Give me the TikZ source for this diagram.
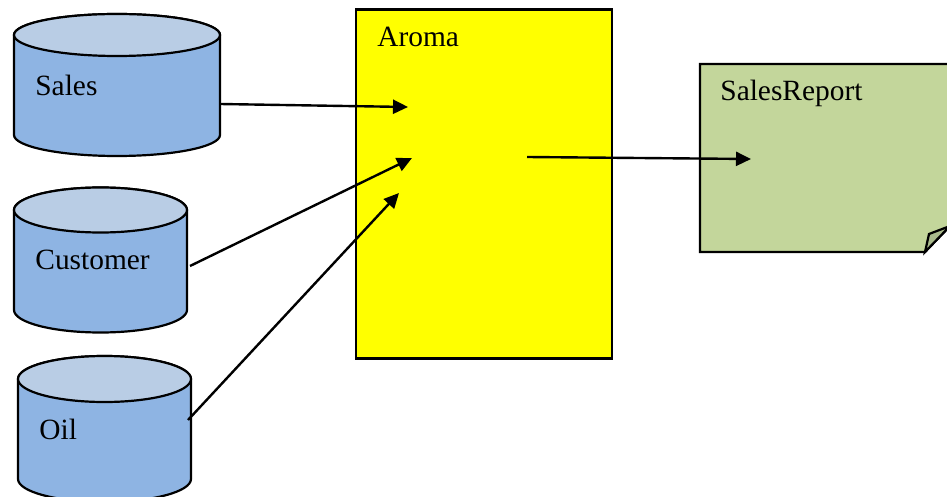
\documentclass[tikz,border=0pt]{standalone}
\usepackage{fontspec}
\setmainfont{Liberation Serif}
\usetikzlibrary{positioning,arrows.meta}

\definecolor{dbtop}{HTML}{B9CDE5}
\definecolor{dbside}{HTML}{8EB4E3}
\definecolor{aromayellow}{HTML}{FFFF00}
\definecolor{reportgreen}{HTML}{C3D69B}
\definecolor{foldgreen}{HTML}{A9BA8C}

\tikzset{
    dbline/.style={draw,line width=1.1pt},
    dbbody/.style={inner sep=0pt,outer sep=0pt,minimum height=50pt},
    labeltext/.style={inner sep=0pt,font=\fontsize{14.7}{17}\selectfont},
    process/.style={draw,line width=1.2pt,fill=aromayellow,inner sep=0pt,
        minimum width=128pt,minimum height=174.5pt},
    flow/.style={->,line width=1.2pt},
}

% cylinder round the body node #1, half width #2, end radius #3
\newcommand{\dbshape}[3]{%
    \draw[dbline,fill=dbside] (#1.north west) -- (#1.south west)
        arc[start angle=180,end angle=360,x radius=#2,y radius=#3]
        -- (#1.north east)
        arc[start angle=0,end angle=180,x radius=#2,y radius=#3] -- cycle;
    \draw[dbline,fill=dbtop] (#1.north) ellipse[x radius=#2,y radius=#3];
}

\begin{document}
\begin{tikzpicture}[x=0.5pt,y=0.5pt,>={Triangle[length=7.5pt,width=7pt]}]
    \useasboundingbox (0,0) rectangle (947,-497);

    % data stores
    \node[dbbody,minimum width=103pt] (sales) at (117,-85) {};
    \node[dbbody,minimum width=86.5pt] (customer) at (100.5,-260) {};
    \node[dbbody,minimum width=86.5pt] (oil) at (104.5,-429) {};
    \dbshape{sales}{103}{21}
    \dbshape{customer}{86.5}{22.5}
    \dbshape{oil}{86.5}{23}
    \node[labeltext,right=10.5pt of sales.west] (saleslabel) {Sales};
    \node[labeltext,right=10.5pt of customer.west] (customerlabel) {Customer};
    \node[labeltext,right=10.5pt of oil.west] (oillabel) {Oil};

    % process
    \node[process] (aroma) at (484,-184) {};
    \node[labeltext,right] (aromalabel) at (377,-37) {Aroma};

    % report
    \draw[dbline,fill=reportgreen] (700,-64) -- (950,-64) -- (950,-226)
        -- (925,-252) -- (700,-252) -- cycle;
    \draw[dbline,fill=foldgreen] (925,-252) -- (929,-234) -- (950,-226) -- cycle;
    \node[labeltext,right] (reportlabel) at (720,-93) {SalesReport};

    \coordinate (salesin) at (408,-107);
    \coordinate (customerin) at (412,-158);
    \coordinate (oilin) at (399,-193);
    \coordinate (aromaout) at (527,-157);
    \coordinate (reportin) at (751,-159);

    \draw[flow] ([yshift=-9.5pt]sales.east) -- (salesin);
    \draw[flow] ([shift={(1.5pt,-3pt)}]customer.east) -- (customerin);
    \draw[flow] ([shift={(-1.5pt,4.5pt)}]oil.east) -- (oilin);
    \draw[flow] (aromaout) -- (reportin);
\end{tikzpicture}
\end{document}
